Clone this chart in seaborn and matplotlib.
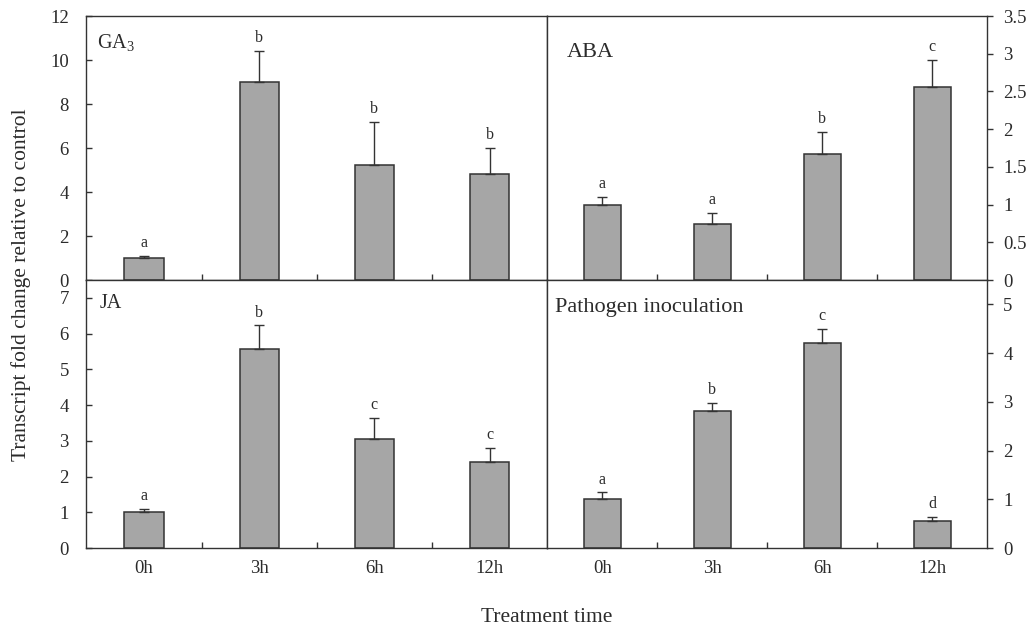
import numpy as np
import pandas as pd
import matplotlib
matplotlib.use("Agg")
import matplotlib.pyplot as plt
import seaborn as sns
from matplotlib.ticker import FuncFormatter, MultipleLocator, FixedLocator

# data
times = ["0h", "3h", "6h", "12h"]

ga3_mean = [1.0, 9.0, 5.25, 4.82]
ga3_err = [0.1, 1.4, 1.95, 1.18]
ga3_sig = ["a", "b", "b", "b"]

aba_mean = [1.0, 0.74, 1.67, 2.56]
aba_err = [0.1, 0.15, 0.29, 0.36]
aba_sig = ["a", "a", "b", "c"]

ja_mean = [1.0, 5.58, 3.05, 2.41]
ja_err = [0.09, 0.65, 0.58, 0.38]
ja_sig = ["a", "b", "c", "c"]

path_mean = [1.0, 2.81, 4.2, 0.55]
path_err = [0.14, 0.16, 0.29, 0.08]
path_sig = ["a", "b", "c", "d"]

bar_color = "#a6a6a6"
line_color = "#333333"
text_color = "#2b2b2b"

sns.set_style("ticks")
plt.rcParams["font.family"] = ["Liberation Serif", "DejaVu Serif"]
plt.rcParams["mathtext.fontset"] = "custom"
plt.rcParams["mathtext.rm"] = "Liberation Serif"
plt.rcParams["mathtext.it"] = "Liberation Serif:italic"
plt.rcParams["text.color"] = text_color
plt.rcParams["xtick.color"] = line_color
plt.rcParams["ytick.color"] = line_color
plt.rcParams["xtick.labelcolor"] = text_color
plt.rcParams["ytick.labelcolor"] = text_color


def draw_panel(ax, means, errs, sig, label, label_xy, label_size,
               ymax, ystep, right_side, show_x):
    df = pd.DataFrame({"time": times, "value": means})
    sns.barplot(data=df, x="time", y="value", order=times, color=bar_color,
                saturation=1, edgecolor=line_color, linewidth=1.1,
                width=0.34, errorbar=None, ax=ax)
    xs = np.arange(len(times))
    ax.errorbar(xs, means, yerr=[np.zeros(len(errs)), errs], fmt="none",
                ecolor=line_color, elinewidth=1.0, capsize=3.3, capthick=1.0)
    for x, m, e, s in zip(xs, means, errs, sig):
        ax.annotate(s, (x, m + e), xytext=(0, 3.5), textcoords="offset points",
                    ha="center", va="bottom", fontsize=11.5)

    ax.text(label_xy[0], label_xy[1], label, transform=ax.transAxes,
            fontsize=label_size, ha="left", va="baseline")

    ax.set_xlim(-0.5, 3.5)
    ax.set_ylim(0, ymax)
    ax.yaxis.set_major_locator(MultipleLocator(ystep))
    ax.yaxis.set_major_formatter(FuncFormatter(lambda v, p: f"{v:g}"))
    ax.set_xlabel("")
    ax.set_ylabel("")

    # category labels at centres, tick marks between bars
    ax.xaxis.set_minor_locator(FixedLocator([0.5, 1.5, 2.5]))
    ax.tick_params(axis="x", which="major", length=0, pad=8.5,
                   labelsize=13.5, labelbottom=show_x)
    ax.tick_params(axis="x", which="minor", direction="in", length=4,
                   width=1, bottom=True)

    if right_side:
        ax.yaxis.tick_right()
        ax.tick_params(axis="y", direction="out", length=4.5, width=1,
                       pad=7, labelsize=13.5)
    else:
        ax.tick_params(axis="y", direction="in", length=4.5, width=1,
                       pad=12.5, labelsize=13.5)

    for sp in ax.spines.values():
        sp.set_visible(True)
        sp.set_color(line_color)
        sp.set_linewidth(1.0)


fig = plt.figure(figsize=(10.31, 6.26), dpi=100)

x0, xm, x1 = 0.0837, 0.5308, 0.9576
y0, ym, y1 = 0.1246, 0.5527, 0.9744

ax_tl = fig.add_axes([x0, ym, xm - x0, y1 - ym])
ax_tr = fig.add_axes([xm, ym, x1 - xm, y1 - ym])
ax_bl = fig.add_axes([x0, y0, xm - x0, ym - y0])
ax_br = fig.add_axes([xm, y0, x1 - xm, ym - y0])

draw_panel(ax_tl, ga3_mean, ga3_err, ga3_sig, r"GA$_{3}$", (0.023, 0.879),
           14.5, 12, 2, False, False)
draw_panel(ax_tr, aba_mean, aba_err, aba_sig, "ABA", (0.045, 0.846),
           16, 3.5, 0.5, True, False)
draw_panel(ax_bl, ja_mean, ja_err, ja_sig, "JA", (0.030, 0.896),
           14.5, 7.5, 1, False, True)
draw_panel(ax_br, path_mean, path_err, path_sig, "Pathogen inoculation",
           (0.0175, 0.882), 16, 5.5, 1, True, True)

fig.text(0.020, 0.545, "Transcript fold change relative to control",
         rotation=90, ha="center", va="center", fontsize=15.5)
fig.text(0.5306, 0.0064, "Treatment time", ha="center", va="baseline",
         fontsize=15.5)

fig.savefig("out.png", dpi=100)
plt.close(fig)
